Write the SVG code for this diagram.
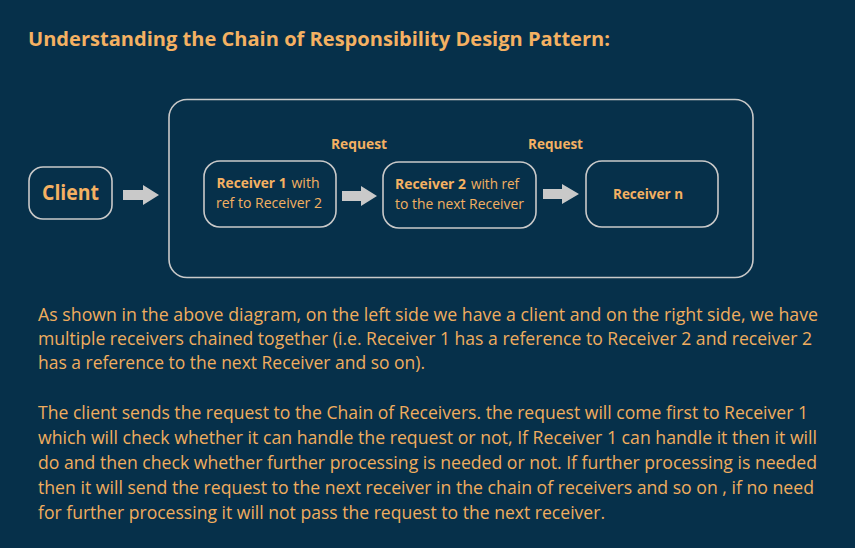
<svg xmlns="http://www.w3.org/2000/svg" width="855" height="548" viewBox="0 0 855 548">
<defs>
<style>
.bg{fill:#06304a}
.box{fill:none;stroke:#c9c9c9;stroke-width:1.6}
.arr{fill:#c9c9c9}
.t{font-family:"Open Sans","Noto Sans","Liberation Sans",sans-serif;fill:#f4b162}
.b{font-weight:bold}
.s14{font-size:15px}
.body{font-size:18.5px;fill:#f0ad5e}
</style>
</defs>
<rect class="bg" x="0" y="0" width="855" height="548"/>
<text class="t b" x="28" y="46" font-size="20" textLength="582" lengthAdjust="spacingAndGlyphs">Understanding the Chain of Responsibility Design Pattern:</text>
<g id="container"><rect class="box" x="169" y="99.5" width="584" height="178" rx="18"/></g>
<g id="client">
<rect class="box" x="29" y="167" width="83" height="52" rx="14"/>
<text class="t b" x="70.5" y="200" font-size="21" text-anchor="middle" textLength="57" lengthAdjust="spacingAndGlyphs">Client</text>
</g>
<g id="receiver1">
<rect class="box" x="204" y="161" width="132" height="66" rx="16"/>
<text class="t s14 b" x="216.5" y="188" textLength="70" lengthAdjust="spacingAndGlyphs">Receiver 1</text>
<text class="t s14" x="291.5" y="188" textLength="28" lengthAdjust="spacingAndGlyphs">with</text>
<text class="t s14" x="216" y="208" textLength="106" lengthAdjust="spacingAndGlyphs">ref to Receiver 2</text>
</g>
<g id="receiver2">
<rect class="box" x="383" y="162" width="153" height="66" rx="16"/>
<text class="t s14 b" x="395" y="189" textLength="71" lengthAdjust="spacingAndGlyphs">Receiver 2</text>
<text class="t s14" x="471" y="189" textLength="48" lengthAdjust="spacingAndGlyphs">with ref</text>
<text class="t s14" x="395" y="209" textLength="129" lengthAdjust="spacingAndGlyphs">to the next Receiver</text>
</g>
<g id="receivern">
<rect class="box" x="586" y="161" width="132" height="66" rx="16"/>
<text class="t s14 b" x="648" y="199" text-anchor="middle" textLength="70" lengthAdjust="spacingAndGlyphs">Receiver n</text>
</g>
<g id="connectors">
<polygon class="arr" points="123,190 143,190 143,185 159,195 143,205 143,200 123,200"/>
<polygon class="arr" points="342,191 361,191 361,186 377,196 361,206 361,201 342,201"/>
<polygon class="arr" points="543,189 562,189 562,184 579,194 562,204 562,199 543,199"/>
<text class="t s14 b" x="331" y="149" textLength="56" lengthAdjust="spacingAndGlyphs">Request</text>
<text class="t s14 b" x="528" y="149" textLength="55" lengthAdjust="spacingAndGlyphs">Request</text>
</g>
<g id="description">
<text class="t body" x="38" y="321" textLength="780" lengthAdjust="spacingAndGlyphs">As shown in the above diagram, on the left side we have a client and on the right side, we have</text>
<text class="t body" x="38" y="345" textLength="774" lengthAdjust="spacingAndGlyphs">multiple receivers chained together (i.e. Receiver 1 has a reference to Receiver 2 and receiver 2</text>
<text class="t body" x="38" y="369" textLength="387" lengthAdjust="spacingAndGlyphs">has a reference to the next Receiver and so on).</text>
<text class="t body" x="38" y="419" textLength="770" lengthAdjust="spacingAndGlyphs">The client sends the request to the Chain of Receivers. the request will come first to Receiver 1</text>
<text class="t body" x="38" y="444" textLength="779" lengthAdjust="spacingAndGlyphs">which will check whether it can handle the request or not, If Receiver 1 can handle it then it will</text>
<text class="t body" x="38" y="469" textLength="779" lengthAdjust="spacingAndGlyphs">do and then check whether further processing is needed or not. If further processing is needed</text>
<text class="t body" x="38" y="494" textLength="776" lengthAdjust="spacingAndGlyphs">then it will send the request to the next receiver in the chain of receivers and so on , if no need</text>
<text class="t body" x="38" y="519" textLength="567" lengthAdjust="spacingAndGlyphs">for further processing it will not pass the request to the next receiver.</text>
</g>
</svg>
